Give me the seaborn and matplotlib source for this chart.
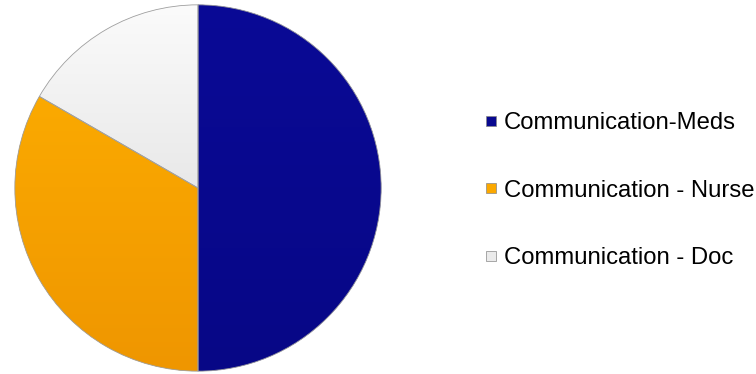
import matplotlib
matplotlib.use("Agg")
import matplotlib.pyplot as plt
import seaborn as sns
import numpy as np
from matplotlib.lines import Line2D
from matplotlib.colors import to_rgb

categories = ["Communication-Meds", "Communication - Nurse", "Communication - Doc"]
values = [3, 2, 1]
colors = ["#08088f", "#fba800", "#ebebeb"]
top_shades = ["#0a0a96", "#ffb000", "#fbfbfb"]
bottom_shades = ["#070786", "#ef9600", "#d6d6d6"]

sns.set_theme(style="white")
plt.rcParams["font.family"] = ["Liberation Sans", "DejaVu Sans"]

fig = plt.figure(figsize=(7.56, 3.74), dpi=100)
ax = fig.add_axes([13 / 756, 1 / 374, 370 / 756, 370 / 374])
wedges, _ = ax.pie(values, colors=colors, startangle=90, counterclock=False,
                   radius=1.0, wedgeprops=dict(linewidth=0))

# subtle vertical shading in each slice
t = np.linspace(0, 1, 256)[:, None]
for w, ctop, cbot in zip(wedges, top_shades, bottom_shades):
    a = np.array(to_rgb(ctop))
    b = np.array(to_rgb(cbot))
    img = a[None, None, :] * (1 - t[..., None]) + b[None, None, :] * t[..., None]
    img = np.repeat(img, 2, axis=1)
    im = ax.imshow(img, extent=(-1, 1, -1, 1), origin="upper", zorder=2,
                   interpolation="bilinear")
    im.set_clip_path(w)

# slice outlines on top
outline, _ = ax.pie(values, startangle=90, counterclock=False, radius=1.0,
                    wedgeprops=dict(fill=False, edgecolor="#a0a0a0", linewidth=0.6))
for o in outline:
    o.set_zorder(3)

ax.set_xlim(-1.01, 1.01)
ax.set_ylim(-1.01, 1.01)
ax.set_aspect("equal")
ax.axis("off")

handles = [Line2D([], [], linestyle="none", marker="s", markersize=7.0,
                  markerfacecolor=c, markeredgecolor="#888888", markeredgewidth=0.5)
           for c in colors]
leg = fig.legend(handles, categories, loc="center left",
                 bbox_to_anchor=(486 / 756, 0.49), frameon=False,
                 fontsize=17.2, handlelength=0.45, handletextpad=0.3,
                 labelspacing=1.9, borderpad=0, borderaxespad=0,
                 labelcolor="black")

fig.savefig("out.png", dpi=100)
